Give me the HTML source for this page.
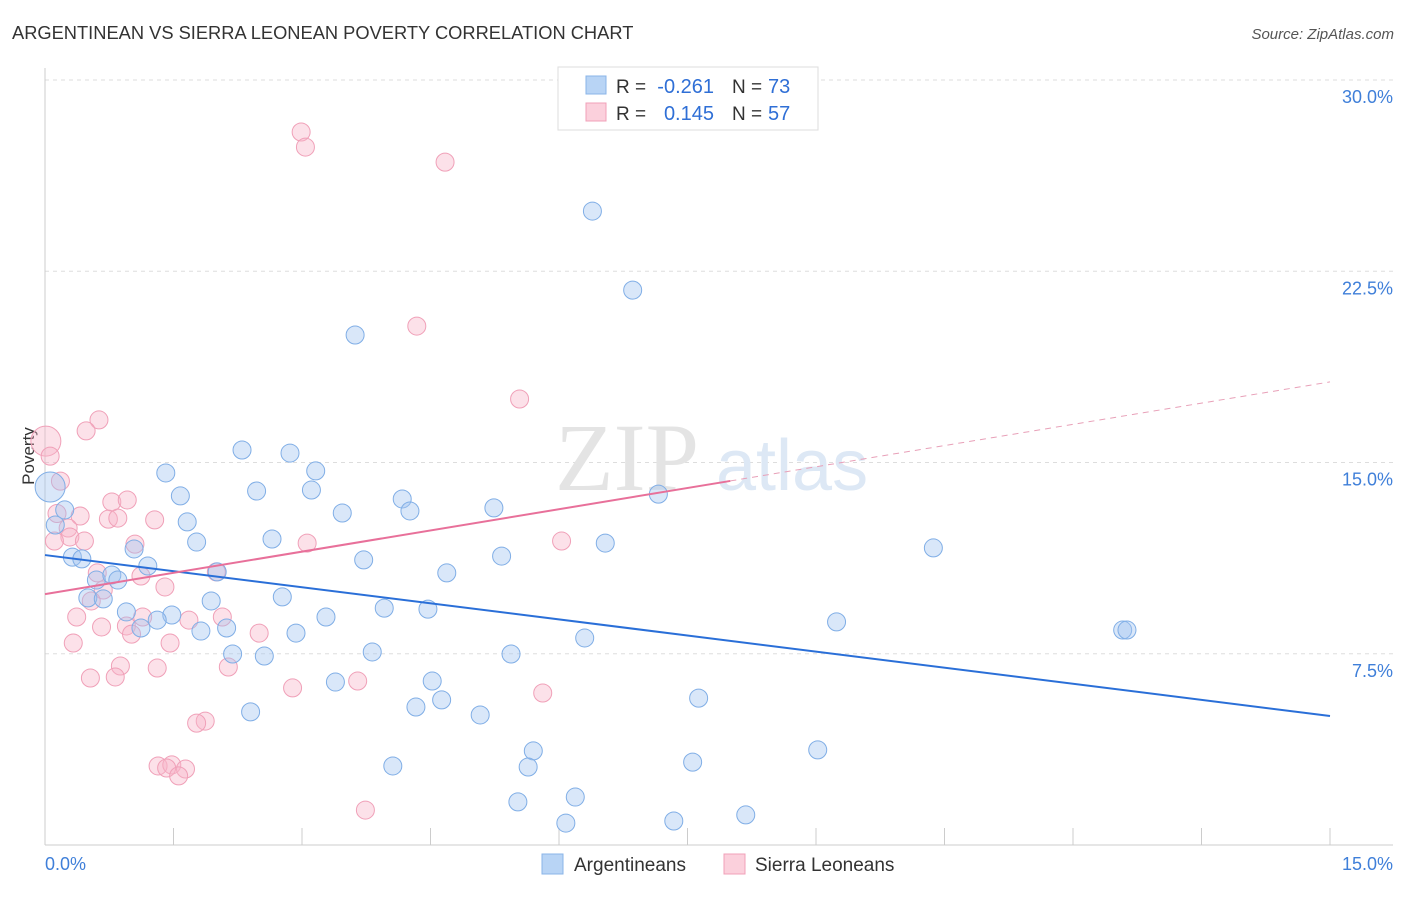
<!DOCTYPE html>
<html><head><meta charset="utf-8"><style>
body{margin:0;background:#fff;font-family:"Liberation Sans",sans-serif;}
</style></head><body>
<svg width="1406" height="892" xmlns="http://www.w3.org/2000/svg" style="font-family:'Liberation Sans',sans-serif">
<text x="12" y="39" font-size="18.3" fill="#333">ARGENTINEAN VS SIERRA LEONEAN POVERTY CORRELATION CHART</text>
<text x="1394" y="39" font-size="15" fill="#555" text-anchor="end" font-style="italic">Source: ZipAtlas.com</text>
<g id="grid"></g>
<text x="555" y="490" font-size="96" fill="#e4e4e4" font-family="Liberation Serif">ZIP</text>
<text x="716" y="490" font-size="72" fill="#dde8f5">atlas</text>
<g id="axes"></g>
<text x="34" y="456" font-size="17" fill="#333" text-anchor="middle" transform="rotate(-90 34 456)">Poverty</text>
<g id="pts"></g>
<g id="lines"></g>
<g>
<rect x="558" y="67" width="260" height="63" fill="#fff" stroke="#ddd"/>
<rect x="586" y="76" width="20" height="18" fill="#b8d4f5" stroke="#8ab4e8"/>
<rect x="586" y="103" width="20" height="18" fill="#fbd0dc" stroke="#f0a0b8"/>
<text x="616" y="93" font-size="19" fill="#333">R =</text>
<text x="714" y="93" font-size="20" fill="#2f6fd6" text-anchor="end">-0.261</text>
<text x="732" y="93" font-size="19" fill="#333">N =</text>
<text x="768" y="93" font-size="20" fill="#2f6fd6">73</text>
<text x="616" y="120" font-size="19" fill="#333">R =</text>
<text x="714" y="120" font-size="20" fill="#2f6fd6" text-anchor="end">0.145</text>
<text x="732" y="120" font-size="19" fill="#333">N =</text>
<text x="768" y="120" font-size="20" fill="#2f6fd6">57</text>
</g>
<g>
<rect x="542" y="854" width="21" height="20" fill="#b8d4f5" stroke="#8ab4e8"/>
<text x="574" y="871" font-size="19" fill="#333">Argentineans</text>
<rect x="724" y="854" width="21" height="20" fill="#fbd0dc" stroke="#f0a0b8"/>
<text x="755" y="871" font-size="19" fill="#333">Sierra Leoneans</text>
</g>
</svg>
<script>
const blueX=[6.39,6.86,3.62,2.30,2.86,3.16,1.41,2.47,3.11,1.58,4.17,7.16,5.24,4.26,3.47,0.23,0.12,1.66,2.65,1.77,6.54,10.37,1.04,0.32,0.43,3.72,5.33,1.20,4.69,2.01,0.60,0.78,0.85,0.50,0.68,1.94,2.77,0.95,1.48,1.31,3.96,4.47,3.28,1.12,1.82,2.12,2.93,9.24,12.58,12.63,6.30,2.19,2.56,3.82,5.44,3.39,4.52,4.63,4.33,7.63,2.40,5.08,5.70,9.02,4.06,5.64,7.56,5.52,6.19,6.08,7.34,8.18,0.06];
const blueY=[24.86,21.76,20.0,15.49,15.37,14.67,14.59,13.88,13.92,13.69,13.57,13.76,13.22,13.10,13.02,13.14,12.55,12.67,12.0,11.88,11.84,11.65,11.61,11.29,11.22,11.18,11.33,10.94,10.67,10.71,10.39,10.59,10.39,9.69,9.65,9.57,9.73,9.14,9.02,8.82,9.29,9.25,8.94,8.51,8.39,8.51,8.31,8.75,8.43,8.43,8.12,7.49,7.41,7.57,7.49,6.39,6.43,5.69,5.41,5.76,5.22,5.10,3.69,3.73,3.10,3.06,3.25,1.69,1.88,0.86,0.94,1.18,14.04];
const pinkX=[2.99,3.04,4.67,4.34,5.54,0.63,0.48,0.01,0.06,0.18,0.78,0.96,0.41,0.74,0.85,1.28,0.14,0.27,0.29,0.46,0.11,1.05,3.06,6.03,0.61,1.12,2.00,1.40,0.68,0.54,0.37,1.14,1.68,2.07,0.66,0.95,1.01,2.50,0.33,1.46,0.88,1.31,2.14,0.53,0.82,3.65,2.89,5.81,1.87,1.77,1.32,1.48,1.64,1.42,1.56,3.74];
const pinkY=[27.96,27.37,26.78,20.35,17.49,16.67,16.24,15.84,15.25,14.27,13.45,13.53,12.90,12.78,12.82,12.75,13.0,12.43,12.08,11.92,11.92,11.80,11.84,11.92,10.67,10.55,10.71,10.12,10.0,9.57,8.94,8.94,8.82,8.94,8.55,8.59,8.27,8.31,7.92,7.92,7.02,6.94,6.98,6.55,6.59,6.43,6.16,5.96,4.86,4.78,3.10,3.14,2.98,3.02,2.71,1.37];
const blueTrend=[11.37,5.06];
const pinkTrend=[9.84,18.16];
const pinkSolidEnd=8.0;
const yTicks=[7.5,15.0,22.5,30.0];
const yTickLabels=["7.5%","15.0%","22.5%","30.0%"];
const xEnds=["0.0%","15.0%"];
const X0=45,X1=1330,Y0=845,YTOP=80;
const sx=v=>X0+v/15*(X1-X0);
const sy=v=>Y0-v/30*(Y0-YTOP);
const NS="http://www.w3.org/2000/svg";
function mk(parent,tag,attrs){const e=document.createElementNS(NS,tag);for(const k in attrs)e.setAttribute(k,attrs[k]);document.getElementById(parent).appendChild(e);return e;}
yTicks.forEach((t,i)=>{
 const l=mk('grid','line',{x1:X0,x2:1393,y1:sy(t),y2:sy(t),stroke:'#ddd','stroke-dasharray':'4,4'});
 
 
 const tx=mk('grid','text',{x:1393,y:sy(t)+23,'font-size':18,fill:'#3f7fd9','text-anchor':'end'});
 tx.textContent=yTickLabels[i];
 
 
});
mk('axes','line',{x1:X0,x2:X0,y1:68,y2:Y0,stroke:'#ccc'});
mk('axes','line',{x1:X0,x2:1393,y1:Y0,y2:Y0,stroke:'#ccc'});
for(let i=0;i<=10;i++){const x=sx(i*1.5);const t=mk('axes','line',{x1:x,x2:x,y1:828,y2:Y0,stroke:'#ccc'});
 
 }
const xl0=mk('axes','text',{x:45,y:870,'font-size':18,fill:'#3f7fd9'});xl0.textContent=xEnds[0];


const xl1=mk('axes','text',{x:1393,y:870,'font-size':18,fill:'#3f7fd9','text-anchor':'end'});xl1.textContent=xEnds[1];


function dots(xs,ys,fill,stroke,name){xs.forEach((x,i)=>{const big=(x<0.1&&i>=xs.length-1)||(x<0.02);
 const c=mk('pts','circle',{cx:sx(x),cy:sy(ys[i]),r:big?15:9,fill:fill,stroke:stroke,'stroke-width':1});
 
 });}
dots(pinkX,pinkY,'rgba(248,180,200,0.4)','#f0a0b8','point-sierra-leonean');
dots(blueX,blueY,'rgba(160,196,240,0.4)','#80aee6','point-argentinean');
const bl=mk('lines','line',{x1:sx(0),y1:sy(blueTrend[0]),x2:sx(15),y2:sy(blueTrend[1]),stroke:'#2a6fd8','stroke-width':2});


const pe=pinkTrend[0]+(pinkTrend[1]-pinkTrend[0])*pinkSolidEnd/15;
const pl=mk('lines','line',{x1:sx(0),y1:sy(pinkTrend[0]),x2:sx(pinkSolidEnd),y2:sy(pe),stroke:'#e8709a','stroke-width':2});


const pd=mk('lines','line',{x1:sx(pinkSolidEnd),y1:sy(pe),x2:sx(15),y2:sy(pinkTrend[1]),stroke:'#e8a0b8','stroke-width':1,'stroke-dasharray':'6,5'});


</script>
</body></html>
